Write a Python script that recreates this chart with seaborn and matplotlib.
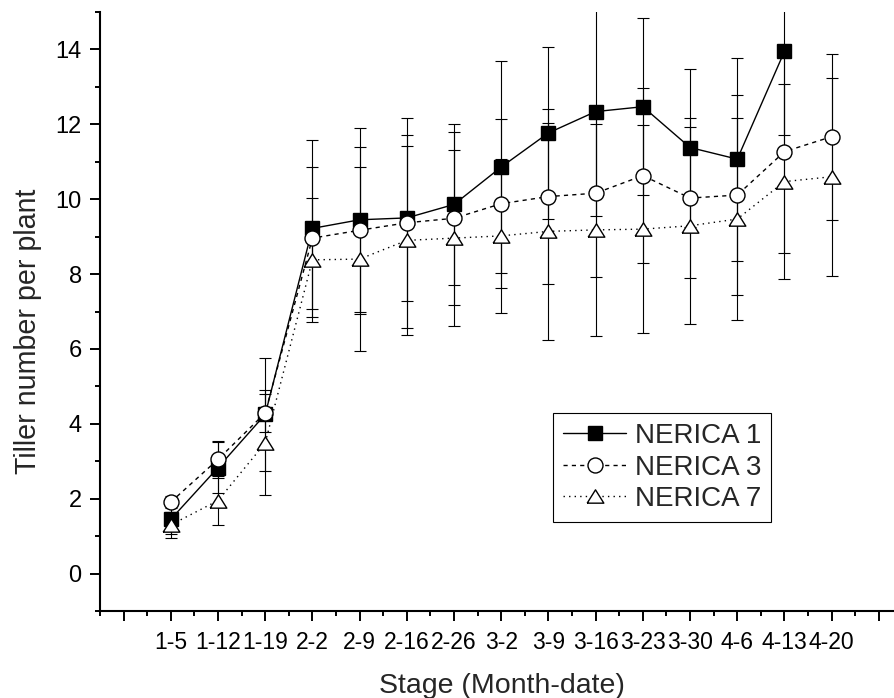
import numpy as np
import pandas as pd
import matplotlib
matplotlib.use("Agg")
import matplotlib.pyplot as plt
import seaborn as sns
from matplotlib.ticker import FixedLocator, FixedFormatter, MultipleLocator

# ---------------- data ----------------
stages = ["1-5", "1-12", "1-19", "2-2", "2-9", "2-16", "2-26", "3-2",
          "3-9", "3-16", "3-23", "3-30", "4-6", "4-13", "4-20"]

nerica1_mean = [1.45, 2.83, 4.25, 9.22, 9.45, 9.50, 9.86, 10.86, 11.77, 12.34, 12.47, 11.38, 11.07, 13.95, np.nan]
nerica1_err = [0.40, 0.68, 1.50, 2.37, 2.46, 2.22, 2.15, 2.83, 2.30, 2.80, 2.37, 2.11, 2.71, 2.24, np.nan]

nerica3_mean = [1.91, 3.05, 4.29, 8.96, 9.17, 9.37, 9.49, 9.88, 10.07, 10.16, 10.63, 10.03, 10.11, 11.27, 11.67]
nerica3_err = [0.15, 0.50, 0.50, 1.89, 2.23, 2.80, 2.31, 2.26, 2.33, 2.24, 2.33, 2.13, 2.67, 2.71, 2.22]

nerica7_mean = [1.30, 1.95, 3.49, 8.38, 8.40, 8.90, 8.96, 9.02, 9.14, 9.18, 9.20, 9.29, 9.47, 10.47, 10.60]
nerica7_err = [0.35, 0.66, 1.40, 1.65, 2.45, 2.52, 2.36, 2.05, 2.89, 2.83, 2.78, 2.63, 2.69, 2.60, 2.65]

varieties = ["NERICA 1", "NERICA 3", "NERICA 7"]

frames = []
for name, m, e in zip(varieties,
                      [nerica1_mean, nerica3_mean, nerica7_mean],
                      [nerica1_err, nerica3_err, nerica7_err]):
    frames.append(pd.DataFrame({"stage": stages, "pos": np.arange(len(stages)),
                                "mean": m, "err": e, "variety": name}))
df = pd.concat(frames, ignore_index=True)

# ---------------- style ----------------
sns.set_style("ticks")
plt.rcParams["font.family"] = ["Liberation Sans", "DejaVu Sans"]

fig = plt.figure(figsize=(8.94, 6.98), dpi=100)
ax = fig.add_axes([100 / 894, 87 / 698, 794 / 894, 599 / 698])

tri = [(-1.25, -1), (1.25, -1), (0, 1), (-1.25, -1)]
styles = {
    "NERICA 1": dict(marker="s", ms=9.6, mfc="black", ls="-"),
    "NERICA 3": dict(marker="o", ms=10.8, mfc="white", ls=(0, (3, 3))),
    "NERICA 7": dict(marker=tri, ms=12, mfc="white", ls=(0, (1, 3))),
}

for i, name in enumerate(varieties):
    sub = df[df["variety"] == name].dropna()
    st = styles[name]
    ax.errorbar(sub["pos"], sub["mean"], yerr=sub["err"], fmt="none",
                ecolor="black", elinewidth=0.8, capsize=4, capthick=0.8,
                zorder=2 + i * 0.1)
    sns.lineplot(data=sub, x="pos", y="mean", ax=ax, color="black",
                 linestyle=st["ls"], linewidth=1.0, marker=st["marker"],
                 markersize=st["ms"], markerfacecolor=st["mfc"],
                 markeredgecolor="black", markeredgewidth=1.0,
                 label=name, zorder=3 + i * 0.1)

ax.set_xlim(-1.5, 15.32)
ax.set_ylim(-1, 15)

ax.xaxis.set_major_locator(FixedLocator(list(range(-1, 16))))
ax.xaxis.set_major_formatter(FixedFormatter([""] + stages + [""]))
ax.xaxis.set_minor_locator(FixedLocator([x + 0.5 for x in range(-2, 16)]))
ax.yaxis.set_major_locator(MultipleLocator(2))
ax.yaxis.set_minor_locator(MultipleLocator(1))

for s in ["top", "right"]:
    ax.spines[s].set_visible(False)
for s in ["left", "bottom"]:
    ax.spines[s].set_linewidth(1.5)
    ax.spines[s].set_color("black")

ax.tick_params(which="major", direction="out", length=7.2, width=1.4,
               colors="black")
ax.tick_params(which="minor", direction="out", length=3.6, width=1.4, colors="black")
ax.tick_params(axis="x", which="major", pad=7, labelsize=16.5)
ax.tick_params(axis="y", which="major", pad=6, labelsize=17)

ax.set_xlabel("Stage (Month-date)", fontsize=20.5)
ax.set_ylabel("Tiller number per plant", fontsize=20.6)
ax.yaxis.set_label_coords(-0.073, 0.467)
ax.xaxis.set_label_coords(0.506, -0.103)

leg = ax.legend(loc="upper left", bbox_to_anchor=(0.571, 0.330),
                borderaxespad=0, fontsize=20, frameon=True, fancybox=False,
                handlelength=2.27, handletextpad=0.33, labelspacing=0.2,
                borderpad=0.35, numpoints=1)
leg.get_frame().set_edgecolor("black")
leg.get_frame().set_linewidth(0.8)
leg.get_frame().set_facecolor("white")
leg.get_frame().set_alpha(1)

fig.savefig("out.png", dpi=100)
